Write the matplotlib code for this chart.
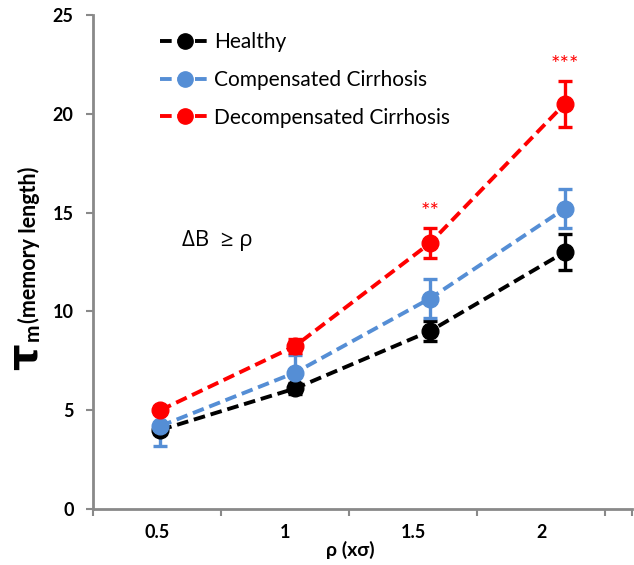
import matplotlib
matplotlib.use("Agg")
import matplotlib.pyplot as plt
from matplotlib.lines import Line2D
import numpy as np

plt.rcParams['font.family'] = ['Lato', 'DejaVu Sans']

categories = ["0.5", "1", "1.5", "2"]
healthy = [4.0, 6.1, 9.0, 13.0]
healthy_err = [0.2, 0.3, 0.5, 0.9]
comp = [4.2, 6.9, 10.65, 15.2]
comp_err = [1.0, 0.9, 1.0, 1.0]
decomp = [5.0, 8.25, 13.45, 20.5]
decomp_err = [0.1, 0.35, 0.75, 1.15]
series_names = ["Healthy", "Compensated Cirrhosis", "Decompensated Cirrhosis"]
stars = ["", "", "**", "***"]
star_y = [None, None, 15.05, 22.45]

colors = ["#000000", "#558ED5", "#FF0000"]

W, H = 634, 565
fig = plt.figure(figsize=(W / 100, H / 100), dpi=100)
ax = fig.add_axes([93 / W, 56 / H, (632 - 93) / W, (509 - 15) / H])

n = len(categories)
xpos = np.arange(n) + 0.5
dash = (0, (3.0, 1.5))
handles = []
for vals, errs, c, name in zip([healthy, comp, decomp], [healthy_err, comp_err, decomp_err], colors, series_names):
    ax.errorbar(xpos, vals, yerr=errs, color=c, ecolor=c, elinewidth=2.4, capsize=5, capthick=2.4,
                marker='o', markersize=12, linestyle=dash, linewidth=2.8)
    handles.append(Line2D([], [], color=c, marker='o', markersize=11, linestyle=dash, linewidth=2.8, label=name))

for x, s, y in zip(xpos, stars, star_y):
    if s:
        ax.text(x, y, s, color="#FF0000", fontsize=16, ha='center', va='center')

ax.text(0.92, 13.6, "ΔB  ≥ ρ", fontsize=16, ha='center', va='center', family=['Open Sans', 'DejaVu Sans'])

ax.set_xlim(0, n)
ax.set_ylim(0, 25)
ax.set_yticks(np.arange(0, 26, 5))
ax.set_yticklabels([str(v) for v in range(0, 26, 5)], fontsize=13, fontweight='bold')

spacing = 128.3 / 135.0
ax.set_xticks([i * spacing for i in range(n + 1)] + [n])
ax.set_xticklabels([""] * (n + 2))
ax.set_xticks([(i + 0.5) * spacing for i in range(n)], minor=True)
ax.set_xticklabels(categories, minor=True, fontsize=13, fontweight='bold')
ax.tick_params(axis='x', which='minor', length=0, pad=11)
ax.tick_params(axis='x', which='major', length=5, width=1.5, color='#898989', direction='out')
ax.tick_params(axis='y', length=5, width=1.5, color='#898989', direction='out', pad=9)

for side in ['top', 'right']:
    ax.spines[side].set_visible(False)
for side in ['left', 'bottom']:
    ax.spines[side].set_color('#898989')
    ax.spines[side].set_linewidth(2)

fig.text(350 / W, 1 - 550 / H, "ρ (xσ)", fontsize=14, fontweight='bold', ha='center', va='center')

fig.text(25 / W, 1 - 357 / H, "τ", fontsize=30, fontweight='bold', rotation=90, ha='center', va='center',
         family=['DejaVu Sans'])
fig.text(33 / W, 1 - 332 / H, "m", fontsize=15, fontweight='bold', rotation=90, ha='center', va='center')
fig.text(29 / W, 1 - 323 / H, "(memory length)", fontsize=15.5, fontweight='bold', rotation=90,
         ha='center', va='bottom')

ax.legend(handles=handles, loc='upper left', bbox_to_anchor=(59 / 539, 1 - 9 / 494), frameon=False,
          fontsize=15, handlelength=2.4, handletextpad=0.2, labelspacing=0.85, borderaxespad=0)

fig.savefig("out.png", dpi=100)
